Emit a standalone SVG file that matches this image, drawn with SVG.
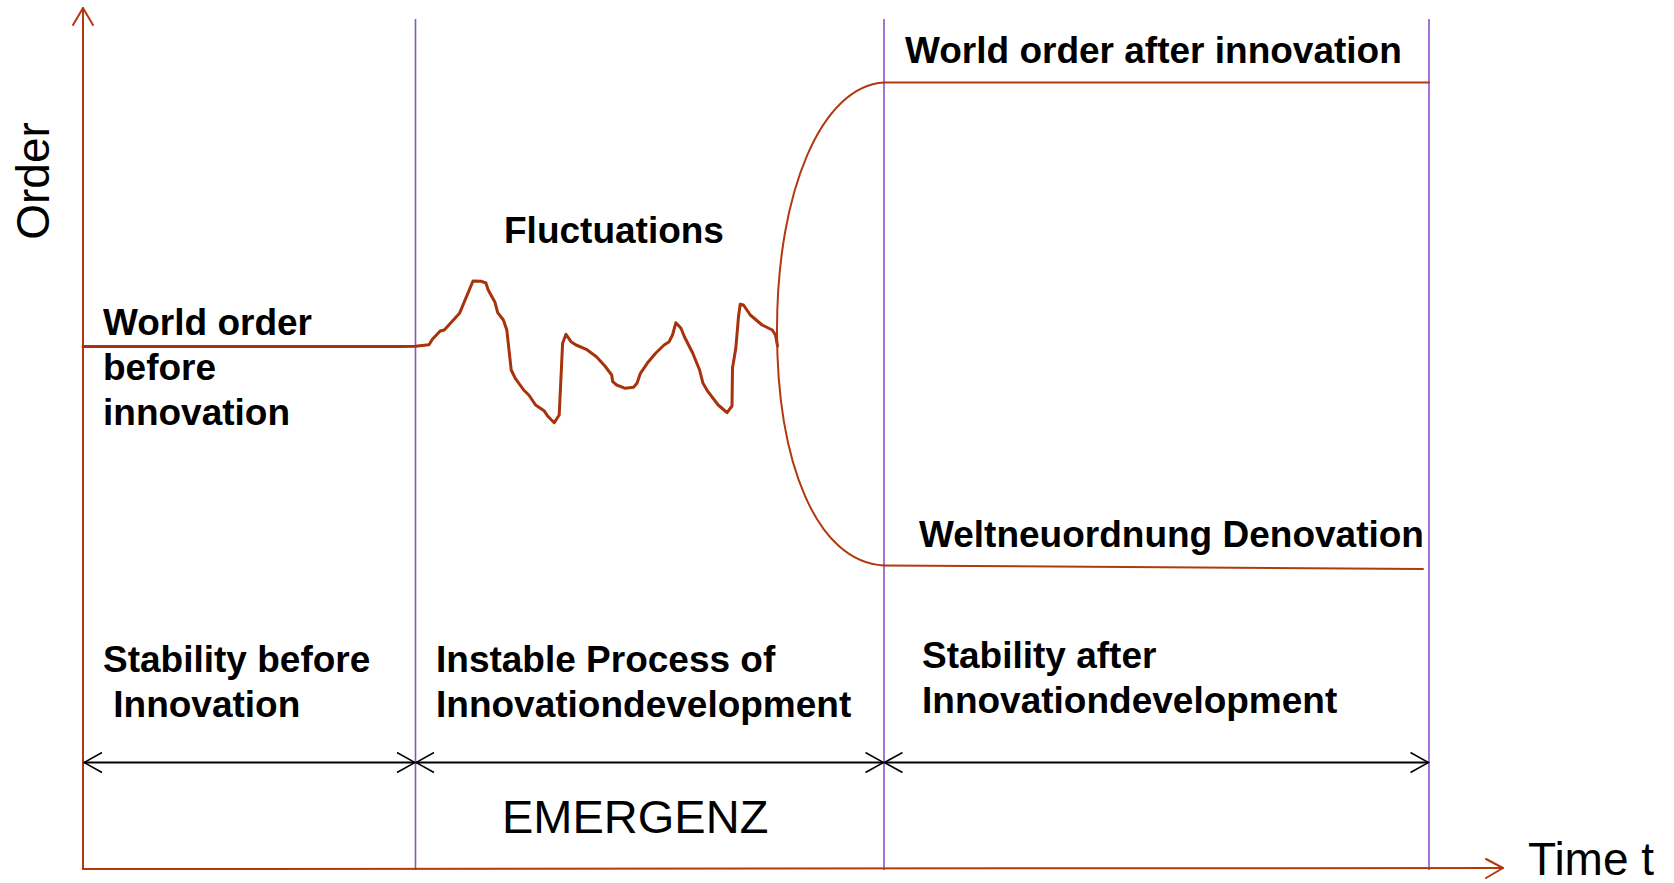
<svg xmlns="http://www.w3.org/2000/svg" width="1674" height="883" viewBox="0 0 1674 883">
  <style>
    .axis { fill: none; stroke: #B3380F; stroke-width: 2; stroke-linecap: round; stroke-linejoin: round; }
    .curve { fill: none; stroke: #A8320C; stroke-width: 3; stroke-linecap: round; stroke-linejoin: round; }
    .sep { fill: none; stroke: #8A52C8; stroke-width: 1.6; }
    .span { fill: none; stroke: #000; stroke-width: 2; }
    .lbl { font-family: "Liberation Sans", Arial, sans-serif; font-weight: bold; font-size: 37px; fill: #000; }
    .big { font-family: "Liberation Sans", Arial, sans-serif; font-size: 46px; fill: #000; }
  </style>
  <defs>
    <marker id="open-end" viewBox="0 0 20 22" refX="19" refY="11" markerWidth="20" markerHeight="22" markerUnits="userSpaceOnUse" orient="auto">
      <path d="M1,1 L19,11 L1,21" fill="none" stroke="#000" stroke-width="1.6"/>
    </marker>
    <marker id="open-start" viewBox="0 0 20 22" refX="1" refY="11" markerWidth="20" markerHeight="22" markerUnits="userSpaceOnUse" orient="auto">
      <path d="M19,1 L1,11 L19,21" fill="none" stroke="#000" stroke-width="1.6"/>
    </marker>
  </defs>
  <rect width="1674" height="883" fill="#fff"/>

  <!-- phase separators -->
  <g id="separators">
    <line class="sep" x1="415.5" y1="19" x2="415.5" y2="870"/>
    <line class="sep" x1="884" y1="19" x2="884" y2="870"/>
    <line class="sep" x1="1429" y1="19" x2="1429" y2="870"/>
  </g>

  <!-- axes -->
  <g id="axes">
    <path class="axis" d="M83,869 L83,8"/>
    <path class="axis" d="M73,25 L83,8 L93,25"/>
    <path class="axis" d="M83,869 L1503,868"/>
    <path class="axis" d="M1486,859 L1503,868 L1486,878"/>
    <text class="big" transform="translate(49,181) rotate(-90)" text-anchor="middle">Order</text>
    <text class="big" x="1528" y="875">Time t</text>
  </g>

  <!-- order curves -->
  <g id="connectors">
    <path class="curve" d="M83,346.5 L400,346.5 L415.5,346.3 L429,344.7 L432.4,339.3 L440.2,331 L444.3,330 L459.5,313.3 L473,281 L481.5,281.3 L485.9,283 L488.2,290 L495,302.3 L497.7,312.7 L503.4,320 L506.8,330 L511.2,370 L515.3,378.3 L523.7,390 L528.8,395 L535.6,405 L544,410.7 L547.4,415.7 L554.2,422.7 L559.2,415 L562.6,343.3 L566,334.3 L571,341.7 L576.1,345 L586.3,349.3 L596.4,356.7 L604.9,366 L611.7,375 L612.7,381.7 L616.7,385 L625.2,388.3 L633.6,387.3 L637,383.3 L640.4,373.3 L647.2,363.3 L655.6,353.3 L664.1,345 L669.1,341.7 L672.5,335 L675.9,322.7 L681,328.3 L684.4,336.7 L692.8,353.3 L699.6,370 L703,383.3 L708,391.7 L718.2,405 L724,410 L727,412.7 L732,406 L732.5,368 L735.8,348.3 L738.5,316.7 L740.2,304.3 L743.5,305 L750.3,315 L762.1,325 L772.3,330 L775.5,335 L777.5,346"/>
    <path class="axis" d="M884,82.5 C822,86 777,190 777,330 C777,462 816,562 884,565.5"/>
    <line class="axis" x1="884" y1="82.5" x2="1429" y2="82.5"/>
    <line class="axis" x1="884" y1="565.5" x2="1423" y2="569"/>
  </g>

  <!-- phase spans -->
  <g id="spans">
    <line class="span" x1="84" y1="762.5" x2="415" y2="762.5" marker-start="url(#open-start)" marker-end="url(#open-end)"/>
    <line class="span" x1="416" y1="762.5" x2="883.5" y2="762.5" marker-start="url(#open-start)" marker-end="url(#open-end)"/>
    <line class="span" x1="884.5" y1="762.5" x2="1428.5" y2="762.5" marker-start="url(#open-start)" marker-end="url(#open-end)"/>
  </g>

  <g id="label-before">
    <text class="lbl" x="103" y="335">World order</text>
    <text class="lbl" x="103" y="380">before</text>
    <text class="lbl" x="103" y="425">innovation</text>
  </g>
  <g id="label-fluctuations">
    <text class="lbl" x="504" y="243">Fluctuations</text>
  </g>
  <g id="label-after">
    <text class="lbl" x="905" y="63">World order after innovation</text>
  </g>
  <g id="label-denovation">
    <text class="lbl" x="919" y="547">Weltneuordnung Denovation</text>
  </g>
  <g id="phase-1">
    <text class="lbl" x="103" y="672">Stability before</text>
    <text class="lbl" x="103" y="717" xml:space="preserve"> Innovation</text>
  </g>
  <g id="phase-2">
    <text class="lbl" x="436" y="672">Instable Process of</text>
    <text class="lbl" x="436" y="717">Innovationdevelopment</text>
  </g>
  <g id="phase-3">
    <text class="lbl" x="922" y="668">Stability after</text>
    <text class="lbl" x="922" y="713">Innovationdevelopment</text>
  </g>
  <g id="emergenz">
    <text x="502" y="833" font-family="Liberation Sans, Arial, sans-serif" font-size="47" fill="#000">EMERGENZ</text>
  </g>
</svg>
